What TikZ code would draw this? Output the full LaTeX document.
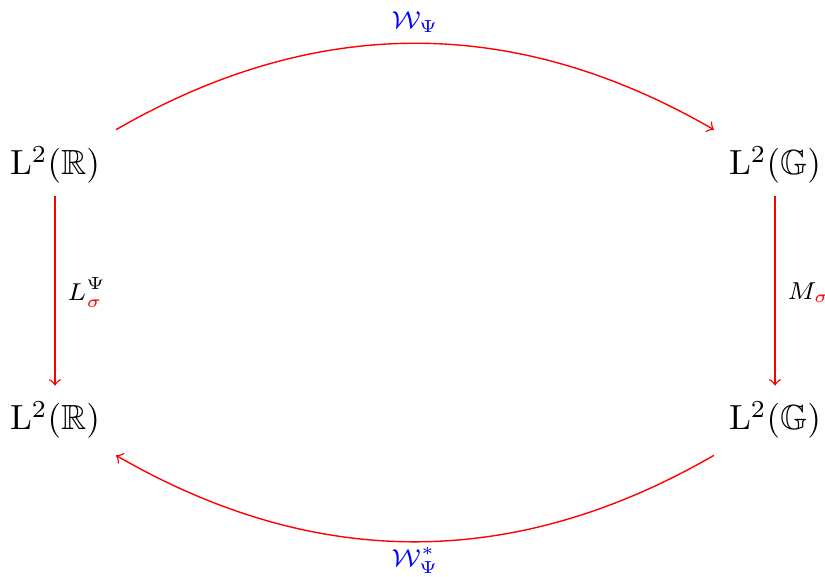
\documentclass[tikz,border=0pt]{standalone}
\usepackage{amsmath,amssymb}

\begin{document}
\begin{tikzpicture}[>=to, arr/.style={->, red}, bendarr/.style={arr, shorten <=2.5pt, shorten >=2.5pt},
    lbl/.style={font=\scriptsize, text=black}]
  \useasboundingbox (0,0) rectangle (8.3,5.795);

  % spaces
  \node (RT) at (0.553,4.135) {$\mathrm{L}^2(\mathbb{R})$};
  \node (GT) at (7.797,4.135) {$\mathrm{L}^2(\mathbb{G})$};
  \node (RB) at (0.553,1.569) {$\mathrm{L}^2(\mathbb{R})$};
  \node (GB) at (7.797,1.569) {$\mathrm{L}^2(\mathbb{G})$};

  % maps
  \draw[bendarr] (RT) to[bend left=30] node[above, lbl, text=blue] {$\mathcal{W}_\Psi$} (GT);
  \draw[arr, shorten >=1pt] (RT) -- node[right, lbl] {$L^\Psi_{\color{red}\sigma}$} (RB);
  \draw[arr, shorten >=1pt] (GT) -- node[right, lbl] {$M_{\color{red}\sigma}$} (GB);
  \draw[bendarr] (GB) to[bend left=30] node[below, lbl, text=blue, yshift=1.5pt] {$\mathcal{W}^*_\Psi$} (RB);
\end{tikzpicture}
\end{document}
